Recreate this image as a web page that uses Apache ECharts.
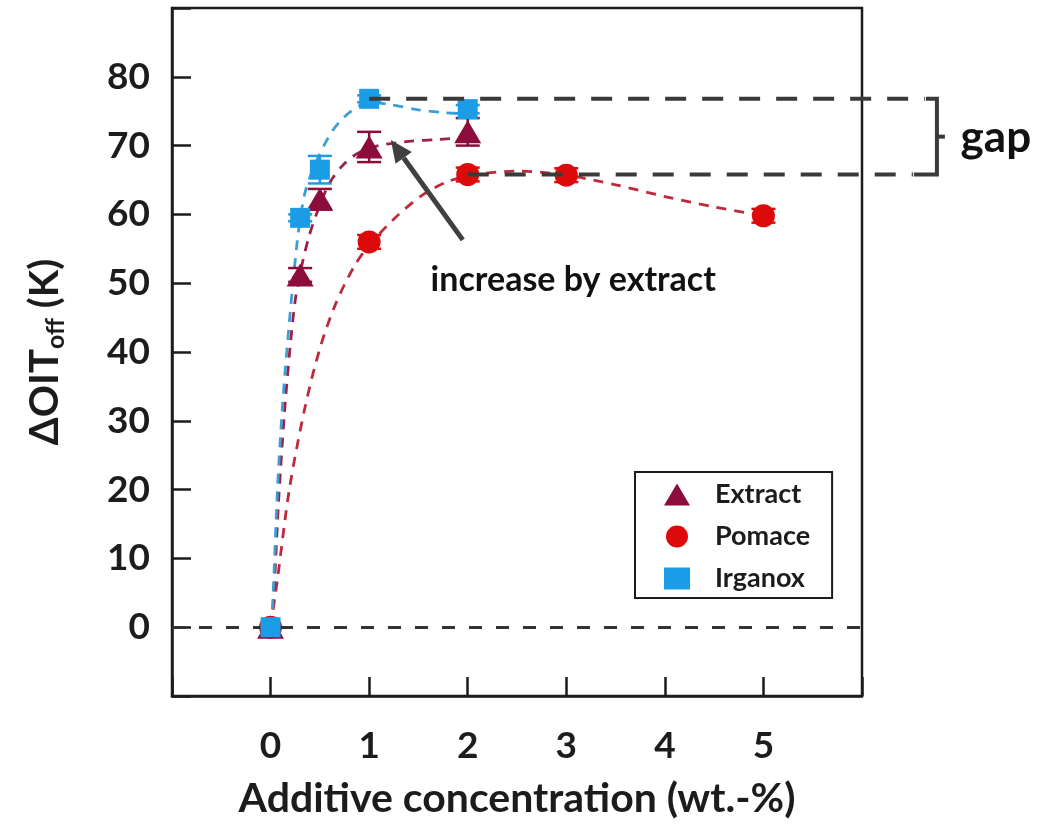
<!DOCTYPE html>
<html><head><meta charset="utf-8">
<script src="https://cdn.jsdelivr.net/npm/echarts@6/dist/echarts.min.js"></script>
<style>html,body{margin:0;padding:0;background:#fff}#c{width:1063px;height:831px}</style>
</head><body><div id="c"></div>
<script>
// ---- data ----
const xTickLabels = [0, 1, 2, 3, 4, 5];
const yTickLabels = [0, 10, 20, 30, 40, 50, 60, 70, 80];

const extractX = [0, 0.3, 0.5, 1, 2];
const extractY = [0, 51.2, 62.2, 69.8, 72.0];
const extractErr = [0, 1.0, 1.5, 2.2, 2.0];

const pomaceX = [0, 1, 2, 3, 5];
const pomaceY = [0, 56.0, 65.8, 65.7, 59.8];
const pomaceErr = [0, 1.0, 1.0, 1.0, 1.0];

const irganoxX = [0, 0.3, 0.5, 1, 2];
const irganoxY = [0, 59.5, 66.5, 76.8, 75.3];
const irganoxErr = [0, 0.5, 2.0, 0.5, 0.6];

// dashed trend curves
const fitExtractX = [0, 0.03, 0.08, 0.14, 0.2, 0.25, 0.3, 0.39, 0.48, 0.6, 0.75, 0.9, 1.1, 1.4, 1.7, 2];
const fitExtractY = [0, 4, 18, 31, 41, 47.5, 51.5, 56.8, 60.6, 64.6, 67.4, 69.0, 70.0, 70.6, 70.9, 71.2];
const fitPomaceX = [0, 0.07, 0.19, 0.35, 0.5, 0.66, 0.85, 1, 1.27, 1.54, 1.77, 2, 2.5, 3, 3.5, 4, 4.5, 5];
const fitPomaceY = [0, 7, 20, 32, 40.5, 47, 52.5, 55.5, 59.6, 62.8, 64.6, 65.6, 66.3, 65.7, 64.3, 62.6, 61.1, 59.8];
const fitIrganoxX = [0, 0.02, 0.07, 0.12, 0.17, 0.23, 0.27, 0.3, 0.35, 0.42, 0.49, 0.56, 0.63, 0.71, 0.79, 0.9, 1, 1.2, 1.5, 1.75, 2];
const fitIrganoxY = [0, 3, 20, 32, 41, 50.5, 56, 59.3, 63.2, 66.2, 68.5, 70.5, 72.2, 73.6, 74.7, 75.8, 76.3, 76.0, 75.2, 74.8, 74.6];

// annotation anchors (data units)
const gapRightX = 6.76;
const arrowTail = [1.95, 56.3];
const arrowTip = [1.22, 70.8];
const increaseLabelAt = [3.07, 50.4];
const gapLabelAt = [7.0, 71.2];

// ---- chart ----
const FONT = 'Lato, Carlito, "Open Sans", sans-serif';
const INK = '#1c1c1c';
const C_EXT = '#8c0c3c', C_POM = '#dc0a0a', C_IRG = '#1a9de6';
const C_EXT_FIT = '#9c2048', C_POM_FIT = '#bd2a3c', C_IRG_FIT = '#3b9fd6';

const zip = (xs, ys) => xs.map((x, i) => [x, ys[i]]);

function errSeries(xs, ys, es, color) {
  return {
    type: 'custom', silent: true, z: 3,
    data: xs.map((x, i) => [x, ys[i] - es[i], ys[i] + es[i]]),
    encode: { x: 0, y: [1, 2] },
    renderItem: (params, api) => {
      const lo = api.coord([api.value(0), api.value(1)]);
      const hi = api.coord([api.value(0), api.value(2)]);
      if (lo[1] - hi[1] < 1) return null;
      const w = 12, st = { stroke: color, lineWidth: 2.5 };
      return { type: 'group', children: [
        { type: 'line', shape: { x1: lo[0], y1: lo[1], x2: hi[0], y2: hi[1] }, style: st },
        { type: 'line', shape: { x1: lo[0] - w, y1: lo[1], x2: lo[0] + w, y2: lo[1] }, style: st },
        { type: 'line', shape: { x1: hi[0] - w, y1: hi[1], x2: hi[0] + w, y2: hi[1] }, style: st }
      ]};
    }
  };
}

function fitSeries(xs, ys, color, extra) {
  return Object.assign({
    type: 'line', data: zip(xs, ys), smooth: 0.3,
    symbol: 'none', silent: true, z: 2,
    lineStyle: { color, width: 2.8, type: [10, 8] }
  }, extra || {});
}

const chart = echarts.init(document.getElementById('c'), null, { renderer: 'canvas' });

const axisLineStyle = { color: INK, width: 2.5 };
const option = {
  animation: false,
  backgroundColor: '#ffffff',
  grid: { left: 172, right: 201, top: 8, bottom: 135, show: true, borderColor: INK, borderWidth: 2.5, containLabel: false },
  xAxis: {
    type: 'value', min: -1, max: 6, interval: 1,
    axisLine: { show: true, onZero: false, lineStyle: axisLineStyle },
    axisTick: { show: true, inside: true, length: 19, lineStyle: axisLineStyle },
    splitLine: { show: false },
    axisLabel: { margin: 32, color: INK, fontFamily: FONT, fontWeight: 'bold', fontSize: 37,
      formatter: v => xTickLabels.includes(v) ? String(v) : '' },
    name: 'Additive concentration (wt.-%)', nameLocation: 'middle', nameGap: 82,
    nameTextStyle: { color: INK, fontFamily: FONT, fontWeight: 'bold', fontSize: 41 }
  },
  yAxis: {
    type: 'value', min: -10, max: 90, interval: 10,
    axisLine: { show: true, onZero: false, lineStyle: axisLineStyle },
    axisTick: { show: true, inside: true, length: 19, lineStyle: axisLineStyle },
    splitLine: { show: false },
    axisLabel: { margin: 22, color: INK, fontFamily: FONT, fontWeight: 'bold', fontSize: 37,
      formatter: v => yTickLabels.includes(v) ? String(v) : '' },
    name: 'ΔOIT{sub|off} (K)', nameLocation: 'middle', nameGap: 104, nameRotate: 90,
    nameTextStyle: { color: INK, fontFamily: FONT, fontWeight: 'bold', fontSize: 40,
      rich: { sub: { color: INK, fontFamily: FONT, fontWeight: 'bold', fontSize: 25, padding: [20, 0, 0, 0] } } }
  },
  legend: {
    show: true, orient: 'vertical', left: 635, top: 472,
    backgroundColor: '#fff', borderColor: INK, borderWidth: 2,
    padding: [9, 22, 6, 29], itemGap: 15, itemWidth: 26, itemHeight: 22,
    textStyle: { color: INK, fontFamily: FONT, fontWeight: 'bold', fontSize: 27, padding: [0, 0, 0, 20] },
    data: [
      { name: 'Extract', icon: 'triangle' },
      { name: 'Pomace', icon: 'circle' },
      { name: 'Irganox', icon: 'rect' }
    ]
  },
  series: [
    fitSeries(fitPomaceX, fitPomaceY, C_POM_FIT, {
      markLine: { silent: true, symbol: 'none', label: { show: false },
        lineStyle: { color: '#333', width: 3, type: [13, 14] }, data: [{ yAxis: 0 }] }
    }),
    fitSeries(fitExtractX, fitExtractY, C_EXT_FIT),
    fitSeries(fitIrganoxX, fitIrganoxY, C_IRG_FIT),
    errSeries(pomaceX, pomaceY, pomaceErr, C_POM),
    errSeries(extractX, extractY, extractErr, C_EXT),
    errSeries(irganoxX, irganoxY, irganoxErr, C_IRG),
    { name: 'Pomace', type: 'scatter', data: zip(pomaceX, pomaceY), symbol: 'circle', symbolSize: 23, z: 4,
      itemStyle: { color: C_POM, opacity: 1 } },
    { name: 'Extract', type: 'scatter', data: zip(extractX, extractY), symbol: 'triangle', symbolSize: [27, 23], z: 5,
      itemStyle: { color: C_EXT, opacity: 1 } },
    { name: 'Irganox', type: 'scatter', data: zip(irganoxX, irganoxY), symbol: 'rect', symbolSize: 20, z: 6,
      itemStyle: { color: C_IRG, opacity: 1 } }
  ]
};
chart.setOption(option);

// ---- annotations anchored to data coordinates ----
const px = p => chart.convertToPixel({ gridIndex: 0 }, p);
const gapTopL = px([irganoxX[3], irganoxY[3]]);
const gapTopR = px([gapRightX, irganoxY[3]]);
const gapBotL = px([pomaceX[2], pomaceY[2]]);
const gapBotR = px([gapRightX, pomaceY[2]]);
const dashStyle = { stroke: '#3a3a3a', lineWidth: 4, lineDash: [21, 16] };
const tail = px(arrowTail), tip = px(arrowTip);
const ang = Math.atan2(tip[1] - tail[1], tip[0] - tail[0]);
const headLen = 22, headW = 10;
const base = [tip[0] - headLen * Math.cos(ang), tip[1] - headLen * Math.sin(ang)];
const nx = -Math.sin(ang), ny = Math.cos(ang);
const incAt = px(increaseLabelAt), gapAt = px(gapLabelAt);
const midY = (gapTopR[1] + gapBotR[1]) / 2;

chart.setOption({
  graphic: [
    { type: 'line', z: 100, shape: { x1: gapTopL[0], y1: gapTopL[1], x2: gapTopR[0] - 12, y2: gapTopR[1] }, style: dashStyle },
    { type: 'line', z: 100, shape: { x1: gapBotL[0], y1: gapBotL[1], x2: gapBotR[0] - 24, y2: gapBotR[1] }, style: dashStyle },
    { type: 'polyline', z: 100, shape: { points: [[gapTopR[0] - 11, gapTopR[1]], [gapTopR[0], gapTopR[1]], [gapBotR[0], gapBotR[1]], [gapBotR[0] - 23, gapBotR[1]]] },
      style: { stroke: '#3a3a3a', lineWidth: 4, fill: null } },
    { type: 'line', z: 100, shape: { x1: gapTopR[0], y1: midY, x2: gapTopR[0] + 8, y2: midY }, style: { stroke: '#3a3a3a', lineWidth: 4 } },
    { type: 'line', z: 100, shape: { x1: tail[0], y1: tail[1], x2: base[0], y2: base[1] }, style: { stroke: '#404040', lineWidth: 5 } },
    { type: 'polygon', z: 100, shape: { points: [tip, [base[0] + nx * headW, base[1] + ny * headW], [base[0] - nx * headW, base[1] - ny * headW]] },
      style: { fill: '#404040' } },
    { type: 'text', z: 100, x: incAt[0], y: incAt[1],
      style: { text: 'increase by extract', fill: '#111', font: 'bold 34px ' + FONT, textAlign: 'center', textVerticalAlign: 'middle' } },
    { type: 'text', z: 100, x: gapAt[0], y: gapAt[1],
      style: { text: 'gap', fill: '#111', font: 'bold 44px ' + FONT, textAlign: 'left', textVerticalAlign: 'middle' } }
  ]
});
</script>
</body></html>
